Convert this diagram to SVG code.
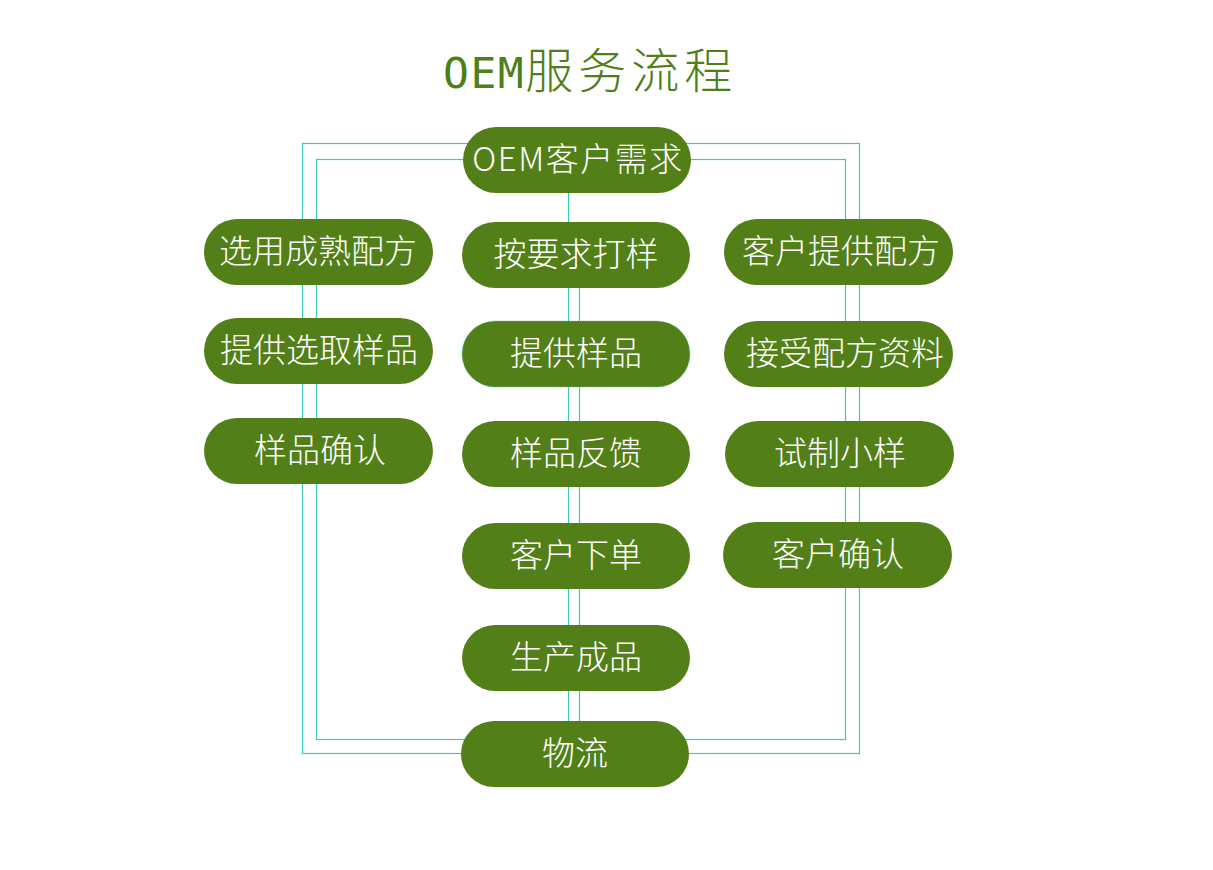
<svg xmlns="http://www.w3.org/2000/svg" width="1213" height="870" viewBox="0 0 1213 870">
<style>
.line{fill:none;stroke:#3ec8bf;stroke-width:1.2}
.pill{fill:#537f18}
.lbl{fill:#ffffff;font-family:"Noto Sans CJK SC","Noto Sans",sans-serif;font-size:33px;font-weight:300;text-anchor:middle;dominant-baseline:central}
.title{fill:#4f7f1a;font-weight:300}
</style>
<rect width="1213" height="870" fill="#ffffff"/>
<text class="title" x="443" y="88"><tspan font-family="DejaVu Sans Mono, monospace" font-size="43" letter-spacing="1.5">OEM</tspan><tspan font-family="Noto Sans CJK SC, sans-serif" font-size="48" letter-spacing="5">服务流程</tspan></text>
<g id="connectors">
<rect class="line" x="302.5" y="143.5" width="557" height="610"/>
<rect class="line" x="316.5" y="159.5" width="529" height="580"/>
<line class="line" x1="568.5" y1="190" x2="568.5" y2="725"/>
<line class="line" x1="579.5" y1="285" x2="579.5" y2="725"/>
</g>
<g id="n1"><rect class="pill" x="463" y="127" width="228" height="66" rx="33"/><text class="lbl" x="578" y="157" letter-spacing="1.5">OEM客户需求</text></g>
<g id="n2"><rect class="pill" x="462" y="222" width="228" height="66" rx="33"/><text class="lbl" x="576" y="252">按要求打样</text></g>
<g id="n3"><rect class="pill" x="462" y="321" width="228" height="66" rx="33" stroke="#5ec9b6" stroke-width="0.8" stroke-dasharray="1 1"/><text class="lbl" x="576" y="351">提供样品</text></g>
<g id="n4"><rect class="pill" x="462" y="421" width="228" height="66" rx="33"/><text class="lbl" x="576" y="451">样品反馈</text></g>
<g id="n5"><rect class="pill" x="462" y="523" width="228" height="66" rx="33"/><text class="lbl" x="576" y="553">客户下单</text></g>
<g id="n6"><rect class="pill" x="462" y="625" width="228" height="66" rx="33"/><text class="lbl" x="576" y="655">生产成品</text></g>
<g id="n7"><rect class="pill" x="461" y="721" width="228" height="66" rx="33"/><text class="lbl" x="575" y="751">物流</text></g>
<g id="l1"><rect class="pill" x="204" y="219" width="229" height="66" rx="33"/><text class="lbl" x="318" y="249">选用成熟配方</text></g>
<g id="l2"><rect class="pill" x="204" y="318" width="229" height="66" rx="33"/><text class="lbl" x="319" y="348">提供选取样品</text></g>
<g id="l3"><rect class="pill" x="204" y="418" width="229" height="66" rx="33"/><text class="lbl" x="320" y="448">样品确认</text></g>
<g id="r1"><rect class="pill" x="724" y="219" width="229" height="66" rx="33"/><text class="lbl" x="841" y="249">客户提供配方</text></g>
<g id="r2"><rect class="pill" x="724" y="321" width="229" height="66" rx="33"/><text class="lbl" x="845" y="351">接受配方资料</text></g>
<g id="r3"><rect class="pill" x="725" y="421" width="229" height="66" rx="33"/><text class="lbl" x="840" y="451">试制小样</text></g>
<g id="r4"><rect class="pill" x="723" y="522" width="229" height="66" rx="33"/><text class="lbl" x="838" y="552">客户确认</text></g>
</svg>
